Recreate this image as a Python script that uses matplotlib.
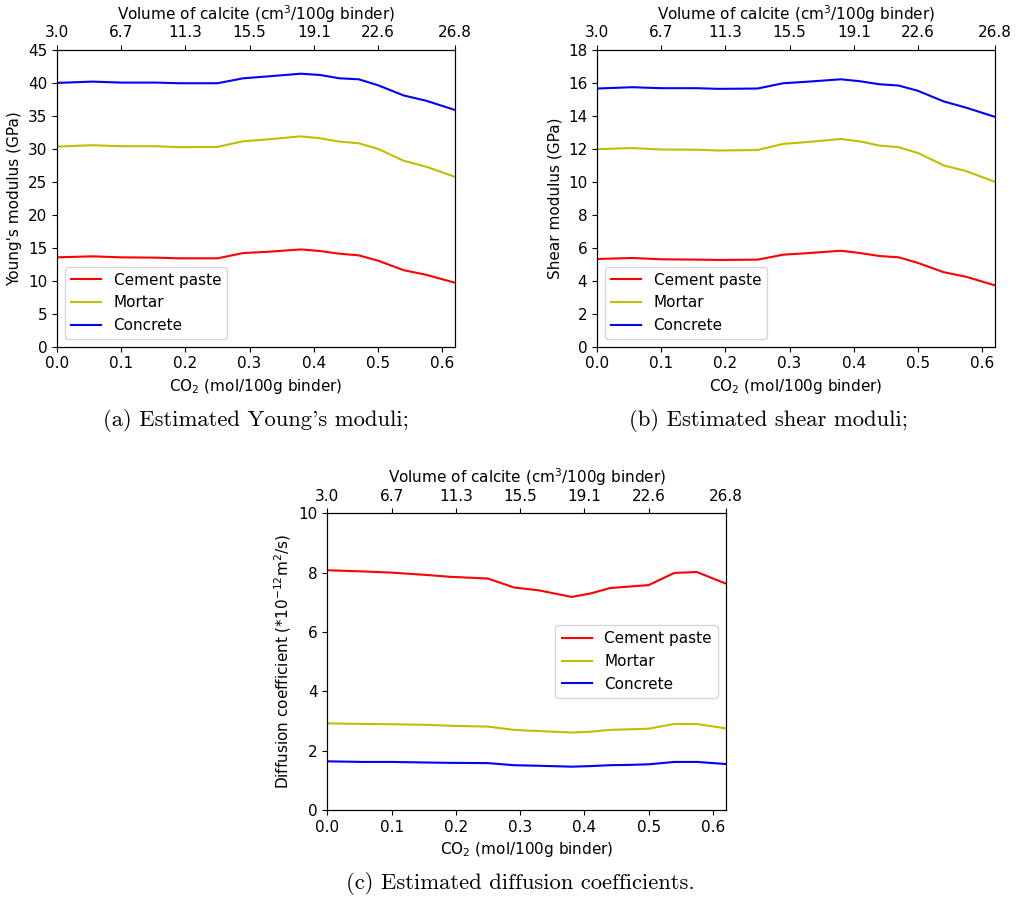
import matplotlib
matplotlib.use("Agg")
import matplotlib.pyplot as plt

# CO2 uptake (mol/100g binder)
co2 = [0.0, 0.055, 0.1, 0.155, 0.19, 0.25, 0.29, 0.33, 0.38, 0.41, 0.44, 0.47, 0.50, 0.54, 0.575, 0.62]

# top axis: volume of calcite
top_ticks = [0.0, 0.1, 0.2, 0.3, 0.4, 0.5, 0.62]
top_labels = ["3.0", "6.7", "11.3", "15.5", "19.1", "22.6", "26.8"]

materials = ["Cement paste", "Mortar", "Concrete"]

young_paste = [13.55, 13.7, 13.55, 13.5, 13.4, 13.4, 14.2, 14.4, 14.75, 14.5, 14.1, 13.85, 13.05, 11.6, 10.9, 9.7]
young_mortar = [30.35, 30.55, 30.4, 30.4, 30.25, 30.3, 31.15, 31.45, 31.9, 31.6, 31.1, 30.85, 30.0, 28.2, 27.3, 25.75]
young_concrete = [40.0, 40.2, 40.05, 40.05, 39.95, 39.95, 40.7, 41.0, 41.4, 41.2, 40.7, 40.55, 39.65, 38.1, 37.3, 35.9]

shear_paste = [5.32, 5.38, 5.3, 5.28, 5.26, 5.28, 5.58, 5.68, 5.82, 5.68, 5.5, 5.42, 5.08, 4.52, 4.24, 3.72]
shear_mortar = [11.98, 12.05, 11.96, 11.95, 11.9, 11.93, 12.3, 12.42, 12.6, 12.45, 12.2, 12.1, 11.75, 11.0, 10.65, 10.0]
shear_concrete = [15.66, 15.74, 15.68, 15.68, 15.64, 15.66, 15.98, 16.08, 16.22, 16.1, 15.92, 15.84, 15.52, 14.88, 14.5, 13.94]

diff_paste = [8.08, 8.04, 8.0, 7.92, 7.86, 7.8, 7.5, 7.4, 7.18, 7.3, 7.48, 7.53, 7.58, 7.99, 8.02, 7.63]
diff_mortar = [2.92, 2.9, 2.89, 2.87, 2.84, 2.81, 2.7, 2.66, 2.61, 2.64, 2.7, 2.72, 2.74, 2.9, 2.9, 2.75]
diff_concrete = [1.64, 1.62, 1.62, 1.6, 1.59, 1.58, 1.51, 1.49, 1.46, 1.48, 1.51, 1.52, 1.54, 1.62, 1.62, 1.55]

colors = ["r", "y", "b"]
fs = 11

fig = plt.figure(figsize=(10.16, 9.0), dpi=100)


def panel(rect, series, ylim, yticks, ylabel, legend_loc):
    ax = fig.add_axes(rect)
    for vals, name, c in zip(series, materials, colors):
        ax.plot(co2, vals, color=c, lw=1.5, label=name)
    ax.set_xlim(0, 0.62)
    ax.set_ylim(*ylim)
    ax.set_yticks(yticks)
    ax.set_xticks([0.0, 0.1, 0.2, 0.3, 0.4, 0.5, 0.6])
    ax.tick_params(labelsize=fs)
    ax.set_xlabel("CO$_2$ (mol/100g binder)", fontsize=fs)
    ax.set_ylabel(ylabel, fontsize=fs)
    ax.legend(loc=legend_loc, fontsize=fs)
    top = ax.twiny()
    top.set_xlim(ax.get_xlim())
    top.set_xticks(top_ticks)
    top.set_xticklabels(top_labels)
    top.tick_params(labelsize=fs)
    top.set_xlabel("Volume of calcite (cm$^3$/100g binder)", fontsize=fs)
    return ax


panel([0.0561, 0.6148, 0.3917, 0.3297],
      [young_paste, young_mortar, young_concrete],
      (0, 45), range(0, 46, 5), "Young's modulus (GPa)", "lower left")
panel([0.5876, 0.6148, 0.3917, 0.3297],
      [shear_paste, shear_mortar, shear_concrete],
      (0, 18), range(0, 19, 2), "Shear modulus (GPa)", "lower left")
panel([0.3222, 0.1, 0.3921, 0.3297],
      [diff_paste, diff_mortar, diff_concrete],
      (0, 10), range(0, 11, 2), "Diffusion coefficient (*10$^{-12}$m$^2$/s)", "center right")

cap = dict(ha="center", va="center", fontsize=16.3, family="cmr10")
fig.text(0.252, 0.533, "(a) Estimated Young's moduli;", **cap)
fig.text(0.756, 0.533, "(b) Estimated shear moduli;", **cap)
fig.text(0.512, 0.018, "(c) Estimated diffusion coefficients.", **cap)

fig.savefig("out.png", dpi=100)
